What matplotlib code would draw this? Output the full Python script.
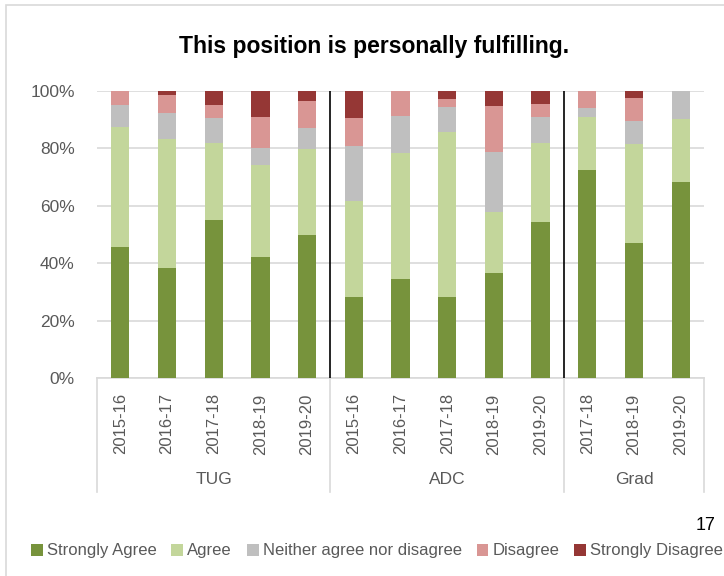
import matplotlib
matplotlib.use("Agg")
import matplotlib.pyplot as plt
from matplotlib.patches import Rectangle
import matplotlib.transforms as mtransforms
import numpy as np

plt.rcParams['font.family'] = ['Liberation Sans', 'DejaVu Sans']

# categories
years = ["2015-16", "2016-17", "2017-18", "2018-19", "2019-20",
         "2015-16", "2016-17", "2017-18", "2018-19", "2019-20",
         "2017-18", "2018-19", "2019-20"]
groups = ["TUG", "ADC", "Grad"]
group_sizes = [5, 5, 3]

# percentages
strongly_agree = [45.8, 38.2, 55.2, 42.2, 49.9, 28.3, 34.5, 28.3, 36.7, 54.3, 72.6, 47.1, 68.4]
agree          = [41.6, 45.0, 26.7, 32.0, 29.9, 33.4, 43.8, 57.3, 21.1, 27.5, 18.2, 34.5, 21.7]
neither        = [7.7, 9.1, 8.6, 6.0, 7.2, 19.3, 13.0, 8.7, 21.1, 9.2, 3.2, 7.8, 9.9]
disagree       = [4.9, 6.3, 4.7, 10.7, 9.5, 9.5, 8.7, 2.9, 15.9, 4.5, 6.0, 8.0, 0.0]
strongly_dis   = [0.0, 1.4, 4.8, 9.1, 3.5, 9.5, 0.0, 2.8, 5.2, 4.5, 0.0, 2.6, 0.0]

series = [("Strongly Agree", strongly_agree, "#77933C"),
          ("Agree", agree, "#C3D69B"),
          ("Neither agree nor disagree", neither, "#BFBFBF"),
          ("Disagree", disagree, "#D99694"),
          ("Strongly Disagree", strongly_dis, "#953735")]

fig = plt.figure(figsize=(7.24, 5.76), dpi=100)
ax = fig.add_axes([97 / 724, 1 - 378 / 576, (704 - 97) / 724, (378 - 91) / 576])

x = np.arange(len(years))
bottom = np.zeros(len(years))
for name, vals, col in series:
    vals = np.array(vals)
    ax.bar(x, vals, 0.39, bottom=bottom, color=col, label=name, zorder=3)
    bottom += vals

ax.set_xlim(-0.5, len(years) - 0.5)
ax.set_ylim(0, 100)
ax.set_yticks(range(0, 101, 20))
ax.set_yticklabels([f"{v}%" for v in range(0, 101, 20)], fontsize=12.5, color="#595959")
ax.yaxis.grid(True, color="#D9D9D9", linewidth=1.2, zorder=0)
ax.tick_params(axis="y", length=0, pad=16)
for s in ["left", "right", "top"]:
    ax.spines[s].set_visible(False)
ax.spines["bottom"].set_color("#D9D9D9")
ax.spines["bottom"].set_linewidth(1.2)

ax.set_xticks(x)
ax.set_xticklabels(years, rotation=90, fontsize=12, color="#595959")
ax.tick_params(axis="x", length=0, pad=11)

# group separators and multi-level axis lines
trans = mtransforms.blended_transform_factory(ax.transData, ax.transAxes)
edges = np.cumsum([0] + group_sizes) - 0.5
for e in edges:
    ax.plot([e, e], [0, -0.397], transform=trans, color="#D9D9D9",
            linewidth=1.2, clip_on=False)
for e in edges[1:-1]:
    ax.plot([e, e], [0, 1], transform=trans, color="black", linewidth=1.2, zorder=4)
for g, a, b in zip(groups, edges[:-1], edges[1:]):
    ax.text((a + b) / 2, -0.352, g, transform=trans, ha="center", va="center",
            fontsize=12.5, color="#595959")

fig.text(374 / 724, 1 - 47 / 576, "This position is personally fulfilling.",
         ha="center", va="center", fontsize=16.5, fontweight="bold")
fig.text(706 / 724, 1 - 525 / 576, "17", ha="center", va="center", fontsize=13)

# chart frame
fig.patches.append(Rectangle((6 / 724, -0.1), 1.2, 1 - 5 / 576 + 0.1,
                             transform=fig.transFigure, fill=False,
                             edgecolor="#D9D9D9", linewidth=1.2))

handles, labels = ax.get_legend_handles_labels()
fig.legend(handles, labels, loc="center", bbox_to_anchor=(377 / 724, 1 - 551 / 576),
           ncol=5, frameon=False, fontsize=12, handlelength=0.7, handleheight=0.7,
           handletextpad=0.25, columnspacing=0.9, labelcolor="#595959")

fig.savefig("out.png", dpi=100)
